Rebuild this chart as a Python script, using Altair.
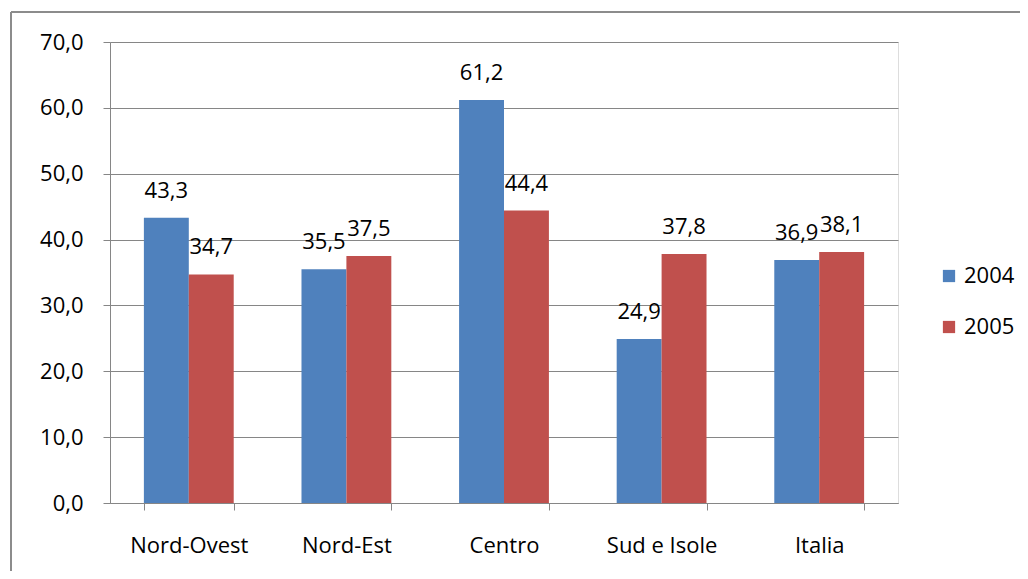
import altair as alt
import pandas as pd

regions = ["Nord-Ovest", "Nord-Est", "Centro", "Sud e Isole", "Italia"]
v2004 = [43.3, 35.5, 61.2, 24.9, 36.9]
v2005 = [34.7, 37.5, 44.4, 37.8, 38.1]
years = ["2004", "2005"]
colors = ["#4F81BD", "#C0504D"]

rows = []
for i, r in enumerate(regions):
    rows.append({"region": r, "year": "2004", "value": v2004[i]})
    rows.append({"region": r, "year": "2005", "value": v2005[i]})
df = pd.DataFrame(rows)

FONT = "Open Sans"
FS = 22
W, H = 788, 461

xenc = alt.X("region:N", sort=regions, title=None,
             scale=alt.Scale(paddingInner=0.43, paddingOuter=0.215),
             axis=alt.Axis(labelAngle=0, tickBand="extent", tickSize=7,
                           tickColor="#868686", domainColor="#868686",
                           labelFontSize=FS, labelFont=FONT, labelColor="#000000",
                           labelPadding=25, grid=False))
yscale = alt.Scale(domain=[0, 70])

base = alt.Chart(df).encode(
    x=xenc,
    xOffset=alt.XOffset("year:N", sort=years),
)

bars = base.mark_bar().encode(
    y=alt.Y("value:Q", scale=yscale, title=None,
            axis=alt.Axis(values=[0, 10, 20, 30, 40, 50, 60, 70], tickSize=7,
                          tickColor="#868686", domainColor="#868686",
                          gridColor="#868686", gridWidth=1,
                          labelFontSize=FS, labelFont=FONT, labelColor="#000000",
                          labelPadding=20,
                          labelExpr="replace(format(datum.value, '.1f'), '.', ',')")),
    color=alt.Color("year:N", scale=alt.Scale(domain=years, range=colors),
                    legend=alt.Legend(title=None, orient="none", legendX=828, legendY=223,
                                      symbolType="square", symbolSize=150,
                                      symbolStrokeWidth=0,
                                      labelFontSize=FS, labelFont=FONT,
                                      labelColor="#000000", rowPadding=29,
                                      labelOffset=4)),
)

labels = base.mark_text(baseline="bottom", dy=-15, fontSize=FS, font=FONT,
                        color="#000000").transform_calculate(
    lab="replace(format(datum.value, '.1f'), '.', ',')"
).encode(
    y=alt.Y("value:Q", scale=yscale),
    text="lab:N",
)

frame_left = alt.Chart(df).mark_rule(color="#8c8c8c", strokeWidth=2).encode(
    x=alt.value(-99), y=alt.value(-30), y2=alt.value(H + 120))
frame_top = alt.Chart(df).mark_rule(color="#8c8c8c", strokeWidth=2).encode(
    y=alt.value(-30), x=alt.value(-99), x2=alt.value(W + 200))

chart = alt.layer(frame_left, frame_top, bars, labels).properties(
    width=W, height=H,
    autosize=alt.AutoSizeParams(type="none"),
    padding={"left": 102, "top": 34, "right": 122, "bottom": 68},
).configure_view(stroke=None).configure(background="white")

chart.save("out.html", embed_options={"renderer": "svg", "actions": False})
